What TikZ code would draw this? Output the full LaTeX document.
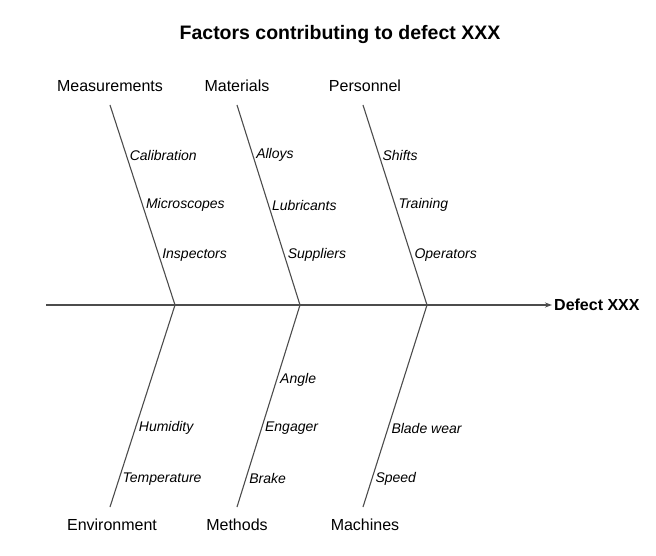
\documentclass[tikz,border=0pt]{standalone}
\usepackage{fontspec}
\setmainfont{Liberation Sans}
\usetikzlibrary{arrows.meta}

\begin{document}
\begin{tikzpicture}[x=1pt, y=-1pt,
    bone/.style={draw=black!70, line width=1.1pt},
    cause/.style={font=\fontsize{16}{18}\selectfont},
    sub/.style={font=\fontsize{14}{16}\selectfont\itshape, anchor=west, inner sep=3pt}]
  \useasboundingbox (0,0) rectangle (656,556);
  \node[font=\fontsize{19.5}{22}\selectfont\bfseries] (title) at (340,35) {Factors contributing to defect XXX};
  % spine and effect
  \coordinate (tail) at (46,305);
  \node[font=\fontsize{16}{18}\selectfont\bfseries, anchor=west, inner sep=2pt] (defect) at (552,305) {Defect XXX};
  \draw[bone, line width=1.4pt, -{Stealth[length=7pt, width=5pt]}] (tail) -- (defect.west);
  \coordinate (j1) at (175,305);
  \coordinate (j2) at (300,305);
  \coordinate (j3) at (427,305);
  % top branches
  \coordinate (m0) at (110,105);
  \coordinate (t0) at (237,105);
  \coordinate (p0) at (363,105);
  \node[cause] (meas) at (110,86) {Measurements};
  \node[cause] (mat) at (237,86) {Materials};
  \node[cause] (pers) at (365,86) {Personnel};
  \draw[bone] (m0) -- (j1)
    node[sub, pos=.25] (calib) {Calibration}
    node[sub, pos=.5] (micro) {Microscopes}
    node[sub, pos=.75] (insp) {Inspectors};
  \draw[bone] (t0) -- (j2)
    node[sub, pos=.25] (alloys) {Alloys}
    node[sub, pos=.5] (lubr) {Lubricants}
    node[sub, pos=.75] (suppl) {Suppliers};
  \draw[bone] (p0) -- (j3)
    node[sub, pos=.25] (shifts) {Shifts}
    node[sub, pos=.5] (train) {Training}
    node[sub, pos=.75] (oper) {Operators};
  % bottom branches
  \coordinate (e0) at (110,507);
  \coordinate (h0) at (237,507);
  \coordinate (c0) at (363,507);
  \node[cause] (env) at (112,525) {Environment};
  \node[cause] (meth) at (237,525) {Methods};
  \node[cause] (mach) at (365,525) {Machines};
  \draw[bone] (j1) -- (e0)
    node[sub, pos=.61] (humid) {Humidity}
    node[sub, pos=.86] (temp) {Temperature};
  \draw[bone] (j2) -- (h0)
    node[sub, pos=.37] (angle) {Angle}
    node[sub, pos=.61] (engag) {Engager}
    node[sub, pos=.86] (brake) {Brake};
  \draw[bone] (j3) -- (c0)
    node[sub, pos=.61] (blade) {Blade wear}
    node[sub, pos=.86] (speed) {Speed};
\end{tikzpicture}
\end{document}
